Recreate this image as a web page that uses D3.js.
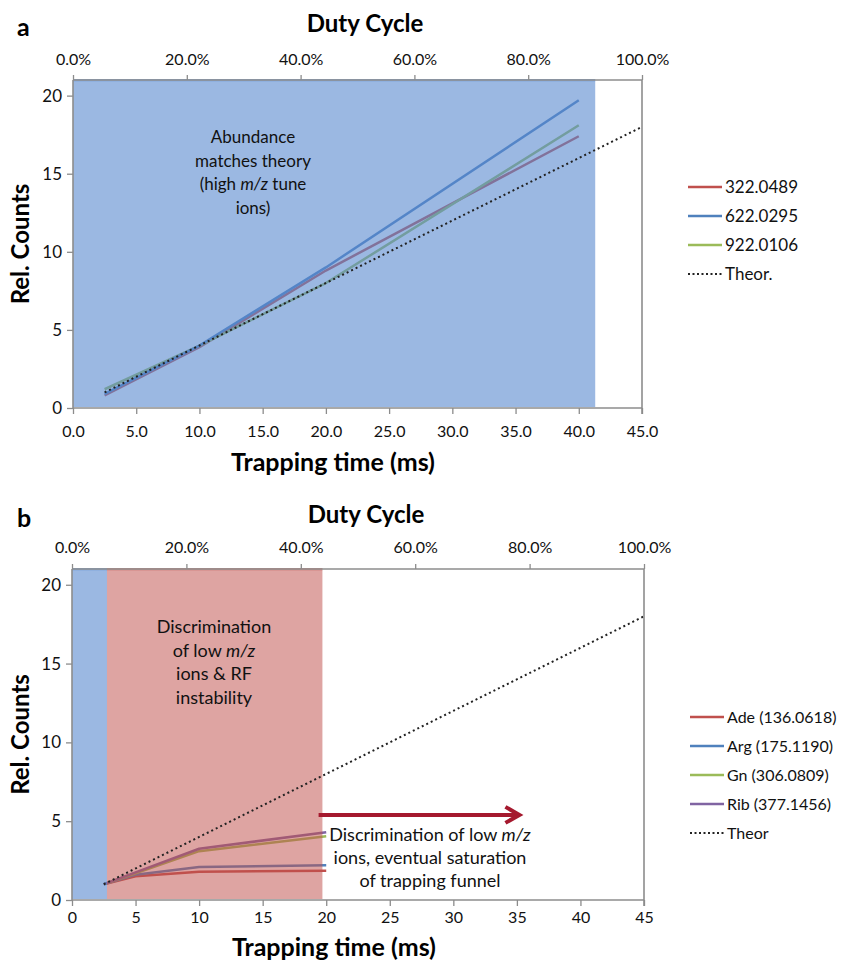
<!DOCTYPE html>
<html>
<head>
<meta charset="utf-8">
<script src="https://cdn.jsdelivr.net/npm/d3@7"></script>
<style>
  body { margin: 0; background: #fff; }
  svg { display: block; font-family: Lato, "Open Sans", sans-serif; }
</style>
</head>
<body>
<svg id="chart" width="844" height="963"></svg>
<script>
// ---------------- DATA ----------------
// Panel a
const xTicksA = [0, 5, 10, 15, 20, 25, 30, 35, 40, 45];
const dutyTicks = [0, 0.2, 0.4, 0.6, 0.8, 1.0];
const yTicks = [0, 5, 10, 15, 20];
const timesA = [2.5, 10, 20, 40];
const s322 = [0.8, 3.9, 8.8, 17.4];
const s622 = [0.9, 4.0, 9.0, 19.7];
const s922 = [1.2, 4.0, 8.0, 18.1];
const theorTimes = [2.5, 45];
const theorVals = [1.0, 18.0];
const seriesNamesA = ["322.0489", "622.0295", "922.0106"];
const theorLabelA = "Theor.";
const shadeA = [[0, 41.3]];

// Panel b
const xTicksB = [0, 5, 10, 15, 20, 25, 30, 35, 40, 45];
const timesB = [2.5, 5, 10, 20];
const ade = [1.0, 1.5, 1.8, 1.85];
const arg = [1.0, 1.6, 2.1, 2.2];
const gn  = [1.0, 1.7, 3.1, 4.05];
const rib = [1.0, 1.75, 3.25, 4.3];
const seriesNamesB = ["Ade (136.0618)", "Arg (175.1190)", "Gn (306.0809)", "Rib (377.1456)"];
const theorLabelB = "Theor";
const shadeBBlue = [0, 2.75];
const shadeBRed = [2.75, 19.7];
const arrowB = [[19.4, 5.4], [35.2, 5.4]];

const colors = { red: "#C0504D", blue: "#4F81BD", green: "#9BBB59", purple: "#8064A2" };

// ---------------- DRAW ----------------
const svg = d3.select("#chart");
const AXIS = "#8c8c8c";

function drawPanel(cfg) {
  const g = svg.append("g");
  const x = d3.scaleLinear().domain([0, 45]).range([cfg.left, cfg.right]);
  const xTop = d3.scaleLinear().domain([0, 1]).range([cfg.left, cfg.right]);
  const y = d3.scaleLinear().domain([0, 21]).range([cfg.bottom, cfg.top]);

  const line = d3.line().x(d => x(d[0])).y(d => y(d[1]));

  // series lines (below shading)
  cfg.series.forEach(s => {
    g.append("path")
      .attr("d", line(d3.zip(s.times, s.vals)))
      .attr("fill", "none").attr("stroke", s.color)
      .attr("stroke-width", 2.5).attr("stroke-linejoin", "round");
  });

  // shaded regions
  cfg.shades.forEach(sh => {
    g.append("rect")
      .attr("x", x(sh.range[0])).attr("width", x(sh.range[1]) - x(sh.range[0]))
      .attr("y", y(21) - 1).attr("height", y(0) - y(21))
      .attr("fill", sh.color).attr("fill-opacity", sh.opacity);
    g.append("rect")
      .attr("x", x(sh.range[0])).attr("width", x(sh.range[1]) - x(sh.range[0]))
      .attr("y", y(21) - 1).attr("height", 2.5)
      .attr("fill", sh.color).attr("fill-opacity", 0.35);
  });

  // theoretical dotted line (on top)
  g.append("path")
    .attr("d", line(d3.zip(theorTimes, theorVals)))
    .attr("fill", "none").attr("stroke", "#222")
    .attr("stroke-width", 2).attr("stroke-dasharray", "2,3");

  // axes
  const axB = g.append("g").attr("transform", `translate(0,${cfg.bottom})`)
    .call(d3.axisBottom(x).tickValues(cfg.xTicks).tickFormat(cfg.xFmt).tickSize(6).tickPadding(cfg.xPad));
  const axT = g.append("g").attr("transform", `translate(0,${cfg.top})`)
    .call(d3.axisTop(xTop).tickValues(dutyTicks).tickFormat(d3.format(".1%")).tickSize(5).tickPadding(cfg.topPad));
  const axL = g.append("g").attr("transform", `translate(${cfg.left},0)`)
    .call(d3.axisLeft(y).tickValues(yTicks).tickSize(6).tickPadding(5));
  const axR = g.append("g").attr("transform", `translate(${cfg.right},0)`)
    .call(d3.axisRight(y).tickValues([]).tickSize(0));
  [axB, axT, axL, axR].forEach(a => {
    a.select(".domain").attr("stroke", AXIS).attr("stroke-width", 1.6);
    a.selectAll(".tick line").attr("stroke", AXIS).attr("stroke-width", 1.3);
    a.selectAll("text").attr("font-family", "Lato, sans-serif").attr("font-size", 16).attr("fill", "#111");
  });
  axL.selectAll("text").attr("font-size", 17);
  axR.select(".domain").attr("d", `M0,${cfg.top}V${cfg.bottom + 6}`);
  axB.select(".domain").attr("d", `M${cfg.left},0H${cfg.right}`);
  axT.select(".domain").attr("d", `M${cfg.left},0H${cfg.right}`);
  axL.select(".domain").attr("d", `M0,${cfg.top}V${cfg.bottom}`);

  // titles
  g.append("text").attr("x", cfg.panelX).attr("y", cfg.panelY)
    .attr("font-size", 25).attr("font-weight", "bold").text(cfg.panel);
  g.append("text").attr("x", cfg.dutyX).attr("y", cfg.dutyY).attr("text-anchor", "middle")
    .attr("font-size", 24).attr("font-weight", "bold").text("Duty Cycle");
  g.append("text").attr("x", cfg.xTitleX).attr("y", cfg.xTitleY).attr("text-anchor", "middle")
    .attr("font-size", 25).attr("font-weight", "bold").text("Trapping time (ms)");
  g.append("text")
    .attr("transform", `translate(${cfg.yTitleX},${(cfg.top + cfg.bottom) / 2}) rotate(-90)`)
    .attr("text-anchor", "middle").attr("font-size", 24).attr("font-weight", "bold").text("Rel. Counts");

  // legend
  const leg = g.append("g");
  cfg.legend.forEach((it, i) => {
    const yy = cfg.legY + i * cfg.legStep;
    leg.append("line").attr("x1", cfg.legX).attr("x2", cfg.legX + 34)
      .attr("y1", yy).attr("y2", yy)
      .attr("stroke", it.color).attr("stroke-width", it.dash ? 2 : 2.5)
      .attr("stroke-dasharray", it.dash ? "2,2.5" : null);
    leg.append("text").attr("x", cfg.legX + 37).attr("y", yy + cfg.legFont * 0.35)
      .attr("font-size", cfg.legFont).attr("fill", "#111").text(it.label);
  });

  return { g, x, y };
}

// annotation helper with italic m/z
function annot(g, cx, y0, step, size, lines) {
  lines.forEach((ln, i) => {
    const t = g.append("text").attr("x", cx).attr("y", y0 + i * step)
      .attr("text-anchor", "middle").attr("font-size", size).attr("fill", "#111");
    ln.forEach(part => {
      t.append("tspan").attr("font-style", part.i ? "italic" : "normal").text(part.t);
    });
  });
}

// Panel a
const pa = drawPanel({
  panel: "a", panelX: 17, panelY: 36,
  left: 73, right: 642, top: 80, bottom: 408,
  xTicks: xTicksA, xFmt: d3.format(".1f"), xPad: 12, topPad: 10,
  dutyX: 365, dutyY: 32, xTitleX: 333, xTitleY: 471, yTitleX: 29,
  series: [
    { times: timesA, vals: s322, color: colors.red },
    { times: timesA, vals: s922, color: colors.green },
    { times: timesA, vals: s622, color: colors.blue }
  ],
  shades: [{ range: shadeA[0], color: "rgb(88,137,207)", opacity: 0.6 }],
  legend: [
    { label: seriesNamesA[0], color: colors.red },
    { label: seriesNamesA[1], color: colors.blue },
    { label: seriesNamesA[2], color: colors.green },
    { label: theorLabelA, color: "#222", dash: true }
  ],
  legX: 688, legY: 187, legStep: 29, legFont: 17
});
annot(pa.g, 253, 143, 23.5, 17, [
  [{ t: "Abundance" }],
  [{ t: "matches theory" }],
  [{ t: "(high " }, { t: "m/z", i: true }, { t: " tune" }],
  [{ t: "ions)" }]
]);

// Panel b
const pb = drawPanel({
  panel: "b", panelX: 17, panelY: 527,
  left: 72, right: 644, top: 569, bottom: 900,
  xTicks: xTicksB, xFmt: d3.format("d"), xPad: 6, topPad: 11,
  dutyX: 366, dutyY: 523, xTitleX: 334, xTitleY: 956, yTitleX: 29,
  series: [
    { times: timesB, vals: ade, color: colors.red },
    { times: timesB, vals: arg, color: colors.blue },
    { times: timesB, vals: gn, color: colors.green },
    { times: timesB, vals: rib, color: colors.purple }
  ],
  shades: [
    { range: shadeBBlue, color: "rgb(88,137,207)", opacity: 0.6 },
    { range: shadeBRed, color: colors.red, opacity: 0.52 }
  ],
  legend: [
    { label: seriesNamesB[0], color: colors.red },
    { label: seriesNamesB[1], color: colors.blue },
    { label: seriesNamesB[2], color: colors.green },
    { label: seriesNamesB[3], color: colors.purple },
    { label: theorLabelB, color: "#222", dash: true }
  ],
  legX: 690, legY: 717, legStep: 29, legFont: 16
});
annot(pb.g, 214, 633, 23.5, 18, [
  [{ t: "Discrimination" }],
  [{ t: "of low " }, { t: "m/z", i: true }],
  [{ t: "ions & RF" }],
  [{ t: "instability" }]
]);
annot(pb.g, 430, 841, 23, 18, [
  [{ t: "Discrimination of low " }, { t: "m/z", i: true }],
  [{ t: "ions, eventual saturation" }],
  [{ t: "of trapping funnel" }]
]);

// red arrow
const ax1 = pb.x(arrowB[0][0]), ax2 = pb.x(arrowB[1][0]), ay = pb.y(arrowB[0][1]);
pb.g.append("line").attr("x1", ax1).attr("x2", ax2 - 2).attr("y1", ay).attr("y2", ay)
  .attr("stroke", "#A5192E").attr("stroke-width", 4);
pb.g.append("path")
  .attr("d", `M${ax2 - 14},${ay - 8}L${ax2},${ay}L${ax2 - 14},${ay + 8}`)
  .attr("fill", "none").attr("stroke", "#A5192E").attr("stroke-width", 4)
  .attr("stroke-linejoin", "miter");
</script>
</body>
</html>
